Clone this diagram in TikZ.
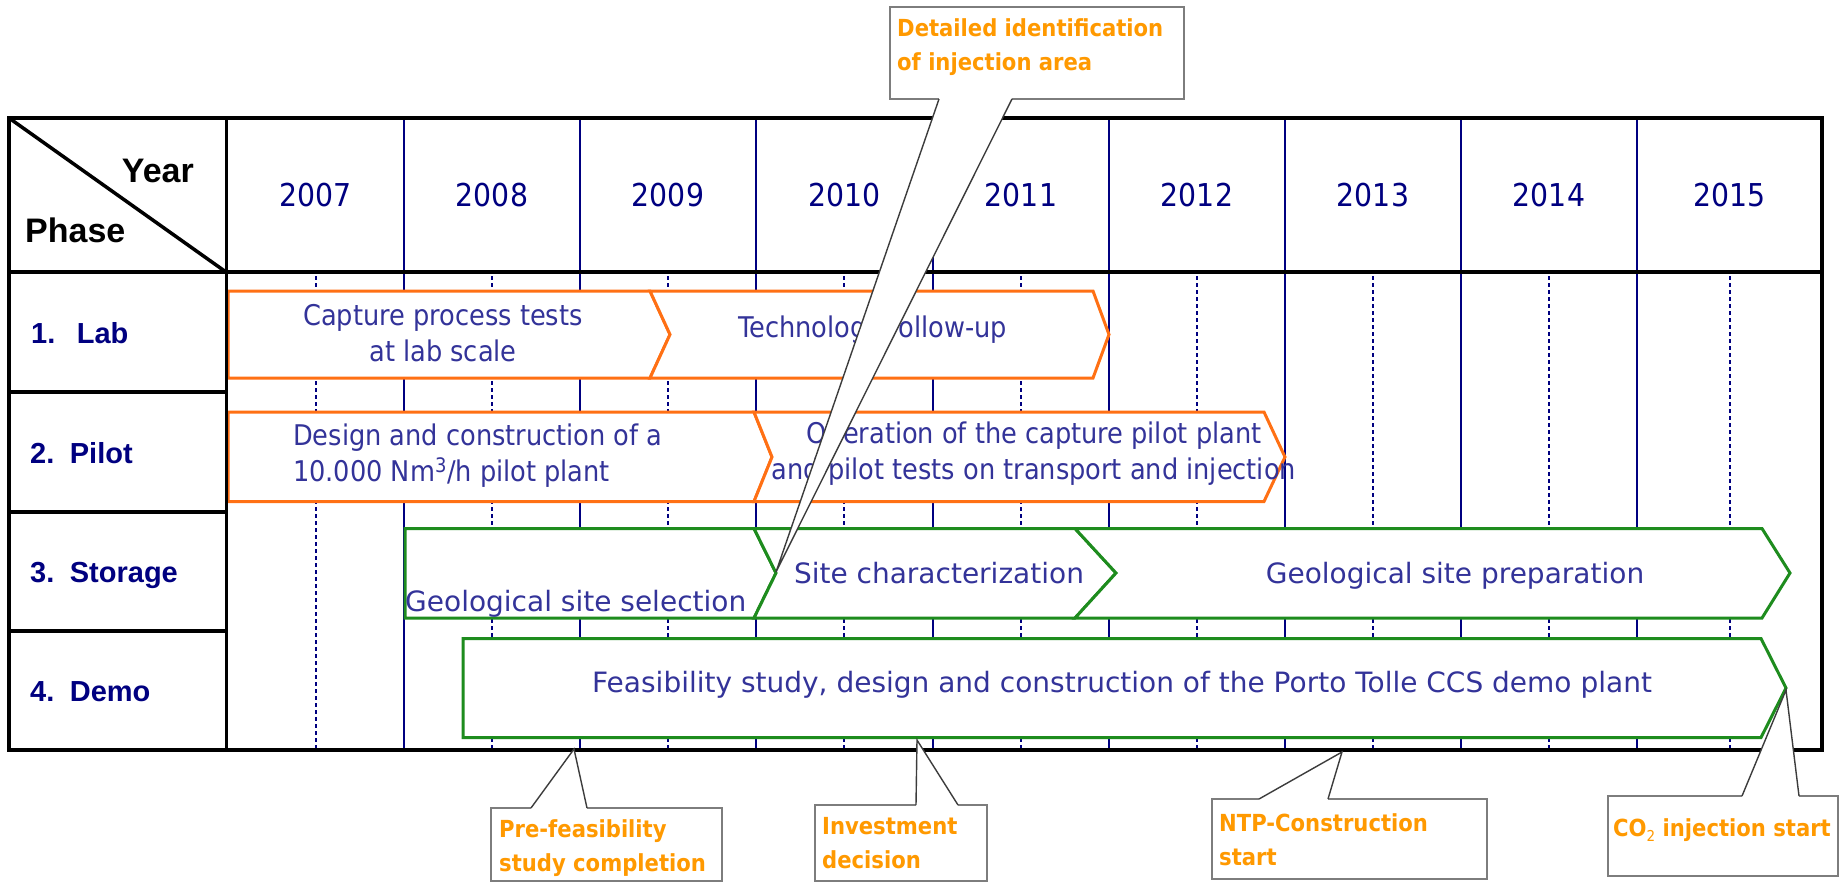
\documentclass[tikz,border=0pt]{standalone}
\usepackage{fontspec}
\setmainfont{DejaVu Sans}
\newfontfamily\tahomaf{DejaVu Sans Condensed}
\newfontfamily\tahomaboldf{DejaVu Sans Condensed Bold}
\newfontfamily\verdanaf{DejaVu Sans}
\newfontfamily\arialf{Liberation Sans}
\definecolor{navyc}{RGB}{0,0,128}
\definecolor{bartxt}{RGB}{51,51,153}
\definecolor{barorange}{RGB}{255,112,20}
\definecolor{bargreen}{RGB}{30,140,30}
\definecolor{callorange}{RGB}{255,153,0}
\definecolor{callgray}{RGB}{125,125,125}
\definecolor{wedgegray}{RGB}{60,60,60}
\tikzset{
  yearlbl/.style={font=\tahomaf\fontsize{31.5}{36}\selectfont, text=navyc, inner sep=0pt, anchor=base},
  hdrlbl/.style={font=\arialf\bfseries\fontsize{34}{38}\selectfont, text=black, inner sep=0pt},
  rowlbl/.style={font=\arialf\bfseries\fontsize{29}{34}\selectfont, text=navyc, inner sep=0pt, anchor=base west},
  thintext/.style={font=\tahomaf\fontsize{28.5}{36}\selectfont, text=bartxt, inner sep=0pt},
  boldtext/.style={font=\verdanaf\fontsize{28}{33}\selectfont, text=bartxt, inner sep=0pt, anchor=base},
  calltext/.style={font=\tahomaboldf\fontsize{23.5}{34}\selectfont, text=callorange, inner sep=0pt, align=left, anchor=north west},
  orangebar/.style={draw=barorange, line width=3pt, fill=white, line join=miter},
  greenbar/.style={draw=bargreen, line width=3pt, fill=white, line join=miter},
  callborder/.style={draw=callgray, line width=2.2pt, line join=miter},
  wedgeline/.style={draw=wedgegray, line width=1.4pt, line join=miter},
  yearline/.style={draw=navyc, line width=1.6pt},
  halfline/.style={draw=navyc, line width=1.5pt, dash pattern=on 4pt off 3pt},
  tblline/.style={draw=black, line width=3.5pt},
}
\begin{document}
\begin{tikzpicture}[x=1pt,y=-1pt]
\useasboundingbox (0,0) rectangle (1848,884);
\fill[white] (0,0) rectangle (1848,884);

% year boundary lines
\foreach \xx in {404,580,756,933,1109,1285,1461,1637}
  \draw[yearline] (\xx,118) -- (\xx,750);
% half-year dotted lines
\foreach \xx in {316,492,668,844,1021,1197,1373,1549,1730}
  \draw[halfline] (\xx,276) -- (\xx,748);

% bars: Lab
\draw[orangebar] (228,291) -- (650,291) -- (670,334.5) -- (650,378) -- (228,378) -- cycle;
\draw[orangebar] (650,291) -- (1093,291) -- (1109,334.5) -- (1093,378) -- (650,378) -- (670,334.5) -- cycle;
% Pilot
\draw[orangebar] (228,412) -- (754,412) -- (772,457) -- (754,501.5) -- (228,501.5) -- cycle;
\draw[orangebar] (754,412) -- (1264,412) -- (1285,457) -- (1264,501.5) -- (754,501.5) -- (772,457) -- cycle;
% Storage
\draw[greenbar] (405,528.5) -- (754,528.5) -- (776,573) -- (754,618) -- (405,618) -- cycle;
\draw[greenbar] (754,528.5) -- (1075,528.5) -- (1116,573) -- (1075,618) -- (754,618) -- (776,573) -- cycle;
\draw[greenbar] (1075,528.5) -- (1762,528.5) -- (1790,573) -- (1762,618) -- (1075,618) -- (1116,573) -- cycle;
% Demo
\draw[greenbar] (463,638.5) -- (1761,638.5) -- (1786,688) -- (1761,737.5) -- (463,737.5) -- cycle;

% bar texts
\node[thintext, align=center] (tcap) at (443,333) {Capture process tests\\at lab scale};
\node[thintext, anchor=base] (ttech) at (873,337) {Technology follow-up};
\node[thintext, align=left, anchor=west] (tdes) at (293,456) {Design and construction of a\\10.000 Nm\textsuperscript{3}/h pilot plant};
\node[thintext, align=center] (top) at (1034,454) {Operation of the capture pilot plant\\and pilot tests on transport and injection};
\node[boldtext, anchor=base west] (tgeo) at (405,611) {Geological site selection};
\node[boldtext] (tsite) at (939,583) {Site characterization};
\node[boldtext] (tprep) at (1455,583) {Geological site preparation};
\node[boldtext] (tfeas) at (1122,692) {Feasibility study, design and construction of the Porto Tolle CCS demo plant};

% table frame
\draw[tblline] (9,118) rectangle (1822,750);
\draw[black, line width=4pt] (9,272) -- (1822,272);
\draw[black, line width=3pt] (226,118) -- (226,750);
\foreach \yy in {392,512,631}
  \draw[black, line width=4.5pt] (9,\yy) -- (226,\yy);
\draw[black, line width=3.5pt] (9,118) -- (226,272);

% header texts
\node[hdrlbl, anchor=base east] (hyear) at (194,182) {Year};
\node[hdrlbl, anchor=base west] (hphase) at (25,242) {Phase};
\node[yearlbl] (y2007) at (315.5,206) {2007};
\node[yearlbl] (y2008) at (492,206) {2008};
\node[yearlbl] (y2009) at (668,206) {2009};
\node[yearlbl] (y2010) at (844.5,206) {2010};
\node[yearlbl] (y2011) at (1021,206) {2011};
\node[yearlbl] (y2012) at (1197,206) {2012};
\node[yearlbl] (y2013) at (1373,206) {2013};
\node[yearlbl] (y2014) at (1549,206) {2014};
\node[yearlbl] (y2015) at (1729.5,206) {2015};

% row labels
\node[rowlbl] (rlab) at (31,343) {1. \hspace{10.8pt}Lab};
\node[rowlbl] (rpilot) at (30,463) {2. \hspace{4.8pt}Pilot};
\node[rowlbl] (rstor) at (30,582.5) {3. \hspace{4.8pt}Storage};
\node[rowlbl] (rdemo) at (30,701.5) {4. \hspace{4.8pt}Demo};

% callout tips
\coordinate (tipdet) at (776,572);
\coordinate (tippre) at (574,749);
\coordinate (tipinv) at (917,740);
\coordinate (tipntp) at (1342,752);
\coordinate (tipco) at (1786,690);

% callout: detailed identification
\fill[white] (890,7) -- (1184,7) -- (1184,99) -- (1012,99) -- (tipdet) -- (939,99) -- (890,99) -- cycle;
\draw[callborder] (939,99) -- (890,99) -- (890,7) -- (1184,7) -- (1184,99) -- (1012,99);
\draw[wedgeline] (939,99) -- (tipdet) -- (1012,99);
\node[calltext] (cdet) at (897,18) {Detailed identification\\of injection area};

% callout: pre-feasibility
\fill[white] (491,808) -- (531,808) -- (tippre) -- (587,808) -- (722,808) -- (722,881) -- (491,881) -- cycle;
\draw[callborder] (531,808) -- (491,808) -- (491,881) -- (722,881) -- (722,808) -- (587,808);
\draw[wedgeline] (531,808) -- (tippre) -- (587,808);
\node[calltext] (cpre) at (499,819) {Pre-feasibility\\study completion};

% callout: investment decision
\fill[white] (815,805) -- (916,805) -- (tipinv) -- (958,805) -- (987,805) -- (987,881) -- (815,881) -- cycle;
\draw[callborder] (916,805) -- (815,805) -- (815,881) -- (987,881) -- (987,805) -- (958,805);
\draw[wedgeline] (916,805) -- (tipinv) -- (958,805);
\node[calltext] (cinv) at (822,817) {Investment\\decision};

% callout: NTP
\fill[white] (1212,799) -- (1259,799) -- (tipntp) -- (1328,799) -- (1487,799) -- (1487,879) -- (1212,879) -- cycle;
\draw[callborder] (1259,799) -- (1212,799) -- (1212,879) -- (1487,879) -- (1487,799) -- (1328,799);
\draw[wedgeline] (1259,799) -- (tipntp) -- (1328,799);
\node[calltext] (cntp) at (1219,813) {NTP-Construction\\start};

% callout: CO2 injection start
\fill[white] (1608,796) -- (1742,796) -- (tipco) -- (1799,796) -- (1838,796) -- (1838,876) -- (1608,876) -- cycle;
\draw[callborder] (1742,796) -- (1608,796) -- (1608,876) -- (1838,876) -- (1838,796) -- (1799,796);
\draw[wedgeline] (1742,796) -- (tipco) -- (1799,796);
\node[calltext] (cco) at (1613,818) {CO{\tahomaf\fontsize{15}{15}\selectfont\raisebox{-5pt}{2}} injection start};
\end{tikzpicture}
\end{document}
